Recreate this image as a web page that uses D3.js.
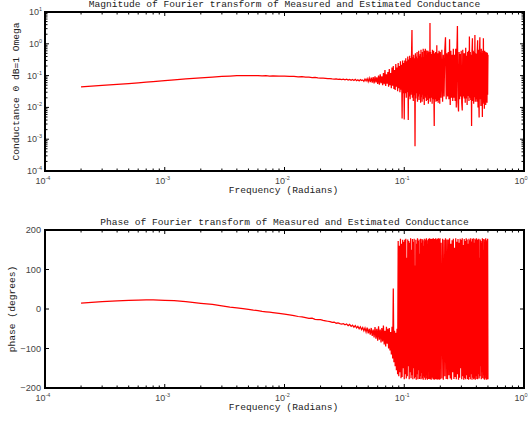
<!DOCTYPE html>
<html><head><meta charset="utf-8">
<script src="https://cdn.jsdelivr.net/npm/d3@7"></script>
<style>body{margin:0;background:#fff}svg{display:block}</style>
</head><body>
<svg id="chart" width="530" height="424"></svg>
<script>
// ---------------- data ----------------
const frequency = [
  0.0002,0.0003,0.0004,0.0005,0.0006,0.0007,0.0008,0.001,0.0012,0.0015,
  0.002,0.0025,0.003,0.0035,0.004,0.0045,0.005,0.0055,0.006,0.0065,
  0.007,0.0075,0.008,0.009,0.010,0.011,0.012,0.013,0.014,0.015,
  0.016,0.017,0.018,0.019,0.020,0.021,0.022,0.023,0.024,0.025,
  0.026,0.027,0.028,0.029,0.030,0.031,
  0.032,0.033,0.034,0.035,0.036,0.037,0.038,0.039,0.040,0.041,
  0.042,0.043,0.044,0.045,0.046,0.047,0.048,0.049,0.050,0.051,
  0.052,0.053,0.054,0.055,0.056,0.057,0.058,0.059,0.060,0.061,
  0.062,0.063,0.064,0.065,0.066,0.067,0.068,0.069,0.070,0.071,
  0.072,0.073,0.074,0.075,0.076,0.077,0.078,0.079,0.080,0.081,
  0.082,0.083,0.084,0.085,0.086,0.087,0.088,0.089,0.090,0.091,
  0.092,0.093,0.094,0.095,0.096,0.097,0.098,0.099,
  0.100,0.101,0.102,0.103,0.104,0.105,0.106,0.107,0.108,0.109,
  0.110,0.111,0.112,0.113,0.114,0.115,0.116,0.117,0.118,0.119,
  0.120,0.121,0.122,0.123,0.124,0.125,0.126,0.127,0.128,0.129,
  0.130,0.131,0.132,0.133,0.134,0.135,0.136,0.137,0.138,0.139,
  0.140,0.141,0.142,0.143,0.144,0.145,0.146,0.147,0.148,0.149,
  0.150,0.151,0.152,0.153,0.154,0.155,0.156,0.157,0.158,0.159,
  0.160,0.161,0.162,0.163,0.164,0.165,0.166,0.167,0.168,0.169,
  0.170,0.171,0.172,0.173,0.174,0.175,0.176,0.177,0.178,0.179,
  0.180,0.181,0.182,0.183,0.184,0.185,0.186,0.187,0.188,0.189,
  0.190,0.191,0.192,0.193,0.194,0.195,0.196,0.197,0.198,0.199,
  0.200,0.203,0.206,0.209,0.212,0.215,0.218,0.221,0.224,0.227,
  0.230,0.233,0.236,0.239,0.242,0.245,0.248,0.251,0.254,0.257,
  0.260,0.263,0.266,0.269,0.272,0.275,0.278,0.281,0.284,0.287,
  0.290,0.293,0.296,0.299,0.302,0.305,0.308,0.311,0.314,0.317,
  0.320,0.323,0.326,0.329,0.332,0.335,0.338,0.341,0.344,0.347,
  0.350,0.353,0.356,0.359,0.362,0.365,0.368,0.371,0.374,0.377,
  0.380,0.383,0.386,0.389,0.392,0.395,0.398,0.401,0.404,0.407,
  0.410,0.413,0.416,0.419,0.422,0.425,0.428,0.431,0.434,0.437,
  0.440,0.443,0.446,0.449,0.452,0.455,0.458,0.461,0.464,0.467,
  0.470,0.473,0.476,0.479,0.482,0.485,0.488,0.491,0.494,0.497,
  0.500
];

const magnitude = [
  0.044,0.049,0.053,0.056,0.059,0.062,0.065,0.070,0.074,0.079,
  0.085,0.090,0.094,0.097,0.099,0.100,0.100,0.099,0.100,0.098,
  0.099,0.097,0.098,0.096,0.097,0.095,0.094,0.092,0.093,0.090,
  0.089,0.087,0.088,0.085,0.084,0.083,0.082,0.080,0.081,0.079,
  0.078,0.079,0.076,0.078,0.075,0.077,
  0.074,0.077,0.072,0.076,0.071,0.075,0.070,0.076,0.069,0.074,
  0.068,0.075,0.070,0.073,0.066,0.078,0.068,0.080,0.064,0.083,
  0.062,0.086,0.060,0.090,0.057,0.095,0.061,0.088,0.055,0.100,
  0.052,0.110,0.058,0.095,0.050,0.120,0.054,0.150,0.047,0.110,
  0.056,0.130,0.045,0.160,0.050,0.120,0.040,0.180,0.048,0.200,
  0.038,0.150,0.035,0.230,0.045,0.180,0.032,0.250,0.040,0.200,
  0.030,0.280,0.036,0.220,0.0045,0.300,0.028,0.250,
  0.0042,0.30,0.028,0.35,0.020,0.28,0.030,0.40,0.0040,0.32,
  0.022,0.42,0.018,0.36,0.025,0.45,2.70,0.020,0.38,0.016,
  0.45,0.024,0.35,0.0006,0.50,0.019,0.40,0.028,0.55,0.015,
  0.35,0.022,0.60,0.017,0.42,0.026,0.48,0.014,0.65,0.021,
  0.38,0.015,0.55,0.025,0.70,0.018,0.38,0.012,0.60,0.023,
  0.70,0.020,0.45,0.016,0.62,0.026,0.50,0.017,0.60,0.013,
  0.40,0.022,0.55,0.019,4.50,0.015,0.55,0.024,0.42,0.020,
  0.48,0.013,0.65,0.022,0.38,0.018,0.60,0.016,0.0026,0.50,
  0.018,0.42,0.024,0.55,0.015,0.48,0.021,0.90,0.016,0.45,
  0.019,0.50,0.014,0.38,0.021,0.60,0.017,0.45,0.013,0.52,
  0.55,0.020,0.65,0.015,0.45,0.022,0.60,1.60,0.018,0.50,
  0.022,0.55,0.018,1.40,0.012,0.60,0.020,0.45,0.016,0.70,
  0.020,0.45,0.016,0.70,0.010,0.55,3.60,0.014,0.0075,0.55,
  0.018,0.48,0.022,0.60,0.014,0.008,0.65,0.022,0.50,0.019,
  0.50,0.014,0.75,0.019,0.42,0.012,0.55,0.023,0.60,0.016,
  1.70,0.020,0.55,0.017,0.45,0.0026,0.60,1.50,0.016,0.60,
  0.013,0.55,0.021,1.90,0.015,0.50,0.018,0.48,0.015,0.62,
  1.30,0.010,0.65,0.019,0.0048,0.55,1.60,0.018,0.55,0.011,
  0.70,0.020,0.50,0.005,0.60,0.013,1.50,0.015,0.48,0.009,
  0.60,0.015,0.50,0.012,0.55,0.020,0.45,0.014,0.52,0.025,
  0.45
];

const phase = [
  15,18.5,20.5,22,22.5,23,23,22,21,18.5,
  14.5,11.5,8,5,3,1,-1,-3,-4,-6,
  -7,-8,-9,-11,-13,-15,-17,-19,-20,-22,
  -24,-23,-26,-27,-27,-29,-30,-31,-32,-34,
  -33,-36,-35,-37,-38,-37,
  -40,-38,-42,-39,-44,-41,-46,-42,-48,-44,
  -50,-45,-52,-47,-55,-48,-58,-47,-62,-50,
  -65,-48,-68,-52,-72,-46,-75,-50,-80,-44,
  -78,-52,-85,-48,-82,-42,-90,-55,-95,-45,
  -88,-50,-100,-48,-105,-58,-115,-45,-125,52,
  -135,-55,-145,-60,-155,-50,-165,172,-170,160,
  -160,178,-175,165,-172,175,-150,170,
  -178,175,-165,178,-176,130,-170,176,-145,172,
  -178,168,-160,179,-175,150,-168,177,-178,170,
  -150,178,-176,110,-172,175,-179,165,-165,179,
  -178,172,-155,176,-177,140,-170,178,-178,168,
  -162,177,-176,174,-179,160,-170,178,-174,171,
  -179,176,-168,179,-176,165,-179,174,-160,178,
  -177,155,-172,179,-178,170,-165,177,-179,168,
  -174,178,-150,175,-178,179,-170,162,-179,177,
  -175,172,-178,179,-168,176,-177,165,-179,178,
  -172,174,-178,179,-165,171,-179,177,-174,179,
  -178,168,-176,178,-179,175,-170,179,-177,176,
  -178,176,-168,179,-176,165,-179,174,-160,178,
  -177,155,-172,179,-178,170,-165,177,-179,168,
  -174,178,-150,175,-178,179,-170,162,-179,177,
  -175,172,-178,179,-168,176,-177,165,-179,178,
  -172,174,-178,179,-165,171,-179,177,-174,179,
  -178,168,-176,178,-179,175,-170,179,-177,176,
  -178,175,-165,178,-176,130,-170,176,-145,172,
  -178,168,-160,179,-175,150,-168,177,-178,170,
  -179,176,-168,179,-176,165,-179,174,-160,178,
  -178
];

const xDecades = [1e-4, 1e-3, 1e-2, 1e-1, 1];
const xExponents = ["-4", "-3", "-2", "-1", "0"];
const magDecades = [1e-4, 1e-3, 1e-2, 1e-1, 1, 10];
const magExponents = ["-4", "-3", "-2", "-1", "0", "1"];
const phaseTicks = [-200, -100, 0, 100, 200];

const titles = [
  "Magnitude of Fourier transform of Measured and Estimated Conductance",
  "Phase of Fourier transform of Measured and Estimated Conductance"
];
const yLabels = ["Conductance 0 dB=1 Omega", "phase (degrees)"];
const xLabel = "Frequency (Radians)";

// ---------------- drawing ----------------
const svg = d3.select("#chart");
const monoFont = "'Liberation Mono', 'Courier New', monospace";
const sansFont = "'Liberation Sans', Arial, sans-serif";
const left = 45, right = 524;

const x = d3.scaleLog().domain([1e-4, 1]).range([left, right]);
const minorX = [];
xDecades.slice(0, -1).forEach(d => { for (let k = 2; k <= 9; k++) minorX.push(d * k); });

const panels = [
  { top: 12, bottom: 171, kind: "mag" },
  { top: 230, bottom: 388, kind: "phase" }
];

const n = Math.min(frequency.length, magnitude.length, phase.length);
const pts = frequency.slice(0, n).map((f, i) => ({ f, m: magnitude[i], p: phase[i] }));

panels.forEach((pn, idx) => {
  const g = svg.append("g");
  let y;
  if (pn.kind === "mag") y = d3.scaleLog().domain([1e-4, 10]).range([pn.bottom, pn.top]);
  else y = d3.scaleLinear().domain([-200, 200]).range([pn.bottom, pn.top]);

  // data line
  const line = d3.line()
    .x(d => x(d.f))
    .y(d => y(pn.kind === "mag" ? d.m : d.p));
  g.append("path").datum(pts)
    .attr("d", line)
    .attr("fill", "none")
    .attr("stroke", "#ff0000")
    .attr("stroke-width", 1.25)
    .attr("stroke-linejoin", "miter");

  // x ticks (bottom and top, inward)
  const tk = g.append("g").attr("stroke", "#000").attr("stroke-width", 1);
  xDecades.forEach(v => {
    tk.append("line").attr("x1", x(v)).attr("x2", x(v)).attr("y1", pn.bottom).attr("y2", pn.bottom - 4);
    tk.append("line").attr("x1", x(v)).attr("x2", x(v)).attr("y1", pn.top).attr("y2", pn.top + 4);
  });
  minorX.forEach(v => {
    tk.append("line").attr("x1", x(v)).attr("x2", x(v)).attr("y1", pn.bottom).attr("y2", pn.bottom - 2.5);
    tk.append("line").attr("x1", x(v)).attr("x2", x(v)).attr("y1", pn.top).attr("y2", pn.top + 2.5);
  });

  // y ticks
  let yMajor, yMinor = [];
  if (pn.kind === "mag") {
    yMajor = magDecades;
    magDecades.slice(0, -1).forEach(d => { for (let k = 2; k <= 9; k++) yMinor.push(d * k); });
  } else {
    yMajor = phaseTicks;
  }
  yMajor.forEach(v => {
    tk.append("line").attr("x1", left).attr("x2", left + 4).attr("y1", y(v)).attr("y2", y(v));
    tk.append("line").attr("x1", right).attr("x2", right - 4).attr("y1", y(v)).attr("y2", y(v));
  });
  yMinor.forEach(v => {
    tk.append("line").attr("x1", left).attr("x2", left + 2.5).attr("y1", y(v)).attr("y2", y(v));
    tk.append("line").attr("x1", right).attr("x2", right - 2.5).attr("y1", y(v)).attr("y2", y(v));
  });

  // frame
  g.append("rect")
    .attr("x", left).attr("y", pn.top)
    .attr("width", right - left).attr("height", pn.bottom - pn.top)
    .attr("fill", "none").attr("stroke", "#000").attr("stroke-width", 2);

  // x tick labels
  xDecades.forEach((v, i) => {
    const t = g.append("text")
      .attr("x", x(v) - 9.5).attr("y", pn.bottom + 13)
      .attr("text-anchor", "start")
      .attr("font-family", sansFont).attr("font-size", 9).attr("fill", "#444");
    t.append("tspan").text("10");
    t.append("tspan").attr("dy", -4).attr("font-size", 5.5).text(xExponents[i]);
  });

  // y tick labels
  if (pn.kind === "mag") {
    magDecades.forEach((v, i) => {
      const t = g.append("text")
        .attr("x", 42).attr("y", y(v) + 3)
        .attr("text-anchor", "end")
        .attr("font-family", sansFont).attr("font-size", 9).attr("fill", "#444");
      t.append("tspan").text("10");
      t.append("tspan").attr("dy", -4).attr("font-size", 5.5).text(magExponents[i]);
    });
  } else {
    phaseTicks.forEach(v => {
      g.append("text")
        .attr("x", 41).attr("y", y(v) + 3.2)
        .attr("text-anchor", "end")
        .attr("font-family", sansFont).attr("font-size", 9.2).attr("fill", "#444")
        .text(v < 0 ? "\u2212" + Math.abs(v) : String(v));
    });
  }

  // title
  g.append("text")
    .attr("x", (left + right) / 2).attr("y", pn.top - 5)
    .attr("text-anchor", "middle")
    .attr("font-family", monoFont).attr("font-size", 9.6).attr("fill", "#222")
    .text(titles[idx]);

  // x label
  g.append("text")
    .attr("x", (left + right) / 2 - 1).attr("y", pn.bottom + 22)
    .attr("text-anchor", "middle")
    .attr("font-family", monoFont).attr("font-size", 9.6).attr("fill", "#222")
    .text(xLabel);

  // y label
  const cx = pn.kind === "mag" ? 19 : 15;
  const cy = (pn.top + pn.bottom) / 2;
  g.append("text")
    .attr("transform", `translate(${cx},${cy}) rotate(-90)`)
    .attr("text-anchor", "middle")
    .attr("font-family", monoFont).attr("font-size", 9.6).attr("fill", "#222")
    .text(yLabels[idx]);
});
</script>
</body></html>
